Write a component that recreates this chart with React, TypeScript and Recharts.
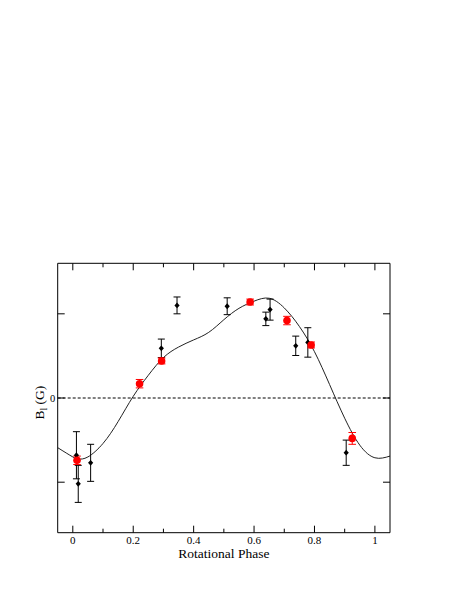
import React from 'react';
import {
  ComposedChart,
  ErrorBar,
  Line,
  ReferenceLine,
  Scatter,
  XAxis,
  YAxis,
} from 'recharts';

const FONT = "'Liberation Serif', 'Times New Roman', Times, serif";

// model curve (phase, field)
const CURVE_PHASE = [
  -0.05, 0, 0.02, 0.05, 0.1, 0.15, 0.2, 0.25, 0.3, 0.35, 0.4, 0.45, 0.5, 0.55,
  0.6, 0.65, 0.7, 0.75, 0.8, 0.85, 0.9, 0.95, 1.0, 1.05,
];
const CURVE_FIELD = [
  -59, -70, -72.5, -70, -54, -28, 2, 27, 48, 60.5, 69, 78, 93, 106.5, 115,
  118.5, 107, 85, 55, 16, -24, -56, -71, -69,
];

// black diamonds
const BLACK_PHASE = [0.012, 0.018, 0.059, 0.293, 0.345, 0.511, 0.639, 0.653, 0.738, 0.778, 0.905];
const BLACK_FIELD = [-68, -102, -77, 59, 110, 109, 94, 105, 62, 66, -65];
const BLACK_ERR = [28, 22, 22, 11, 10, 10, 8, 12.5, 11.5, 17.5, 15];

// red circles
const RED_PHASE = [0.014, 0.221, 0.294, 0.587, 0.709, 0.789, 0.925];
const RED_FIELD = [-74, 17, 44, 114, 92, 63, -48];
const RED_ERR = [5, 5, 3.5, 3.5, 5, 3.5, 7];

const X_TICKS = [0, 0.1, 0.2, 0.3, 0.4, 0.5, 0.6, 0.7, 0.8, 0.9, 1];
const X_LABELS = ['0', '', '0.2', '', '0.4', '', '0.6', '', '0.8', '', '1'];
const Y_TICKS = [-100, 0, 100];
const Y_LABELS = ['', '0', ''];

const curveData = CURVE_PHASE.map((x, i) => ({ x, y: CURVE_FIELD[i] }));
const blackData = BLACK_PHASE.map((x, i) => ({ x, y: BLACK_FIELD[i], err: BLACK_ERR[i] }));
const redData = RED_PHASE.map((x, i) => ({ x, y: RED_FIELD[i], err: RED_ERR[i] }));

const BottomTick = (props: any) => {
  const { x, y, index } = props;
  const label = X_LABELS[index] ?? '';
  const major = label !== '';
  return (
    <g>
      <line x1={x} y1={y} x2={x} y2={y - (major ? 7 : 4)} stroke="#000" />
      {major && (
        <text x={x} y={y + 11.5} textAnchor="middle" fontSize={11} fontFamily={FONT} fill="#000">
          {label}
        </text>
      )}
    </g>
  );
};

const TopTick = (props: any) => {
  const { x, y, index } = props;
  const major = (X_LABELS[index] ?? '') !== '';
  return <line x1={x} y1={y} x2={x} y2={y + (major ? 7 : 4)} stroke="#000" />;
};

const LeftTick = (props: any) => {
  const { x, y, index } = props;
  const label = Y_LABELS[index] ?? '';
  return (
    <g>
      <line x1={x} y1={y} x2={x + 7} y2={y} stroke="#000" />
      {label && (
        <text x={x - 2.5} y={y + 3.5} textAnchor="end" fontSize={10.5} fontFamily={FONT} fill="#000">
          {label}
        </text>
      )}
    </g>
  );
};

const RightTick = (props: any) => {
  const { x, y } = props;
  return <line x1={x} y1={y} x2={x - 7} y2={y} stroke="#000" />;
};

const YTitle = (props: any) => {
  const vb = props.viewBox || {};
  const cx = 36.3;
  const cy = vb.y + vb.height / 2 + 4.7;
  return (
    <text
      x={cx}
      y={cy}
      transform={`rotate(-90, ${cx}, ${cy})`}
      textAnchor="middle"
      fontSize={13.5}
      fontFamily={FONT}
      fill="#000"
    >
      B
      <tspan dy={3} fontSize={9.5}>l</tspan>
      <tspan dy={-3}> (G)</tspan>
    </text>
  );
};

const RedDot = (props: any) => {
  const { cx, cy } = props;
  if (cx == null || cy == null) return null;
  return <circle cx={cx} cy={cy} r={3.8} fill="#ff0000" />;
};

const BlackDiamond = (props: any) => {
  const { cx, cy } = props;
  if (cx == null || cy == null) return null;
  const w = 2.6;
  const h = 2.9;
  return <path d={`M${cx},${cy - h}L${cx + w},${cy}L${cx},${cy + h}L${cx - w},${cy}Z`} fill="#000" />;
};

export default function App() {
  return (
    <ComposedChart
      width={441}
      height={575}
      margin={{ top: 245.3, right: 49, bottom: 20.3, left: 9.7 }}
    >
      <XAxis
        xAxisId="bottom"
        type="number"
        dataKey="x"
        domain={[-0.05, 1.05]}
        allowDataOverflow
        ticks={X_TICKS}
        interval={0}
        height={30}
        tickSize={0}
        tickMargin={0}
        tickLine={false}
        axisLine={{ stroke: '#000' }}
        tick={<BottomTick />}
        label={{
          value: 'Rotational Phase',
          position: 'insideBottom',
          offset: 5,
          style: { fontSize: 13.5, fontFamily: FONT, fill: '#000' },
        }}
      />
      <XAxis
        xAxisId="top"
        orientation="top"
        type="number"
        dataKey="x"
        domain={[-0.05, 1.05]}
        allowDataOverflow
        ticks={X_TICKS}
        interval={0}
        height={10}
        tickSize={0}
        tickMargin={0}
        tickLine={false}
        axisLine={{ stroke: '#000' }}
        tick={<TopTick />}
      />
      <YAxis
        yAxisId="left"
        type="number"
        dataKey="y"
        domain={[-160, 160]}
        allowDataOverflow
        ticks={Y_TICKS}
        interval={0}
        width={40}
        tickSize={0}
        tickMargin={0}
        tickLine={false}
        axisLine={{ stroke: '#000' }}
        tick={<LeftTick />}
        label={(p: any) => <YTitle {...p} />}
      />
      <YAxis
        yAxisId="right"
        orientation="right"
        type="number"
        dataKey="y"
        domain={[-160, 160]}
        allowDataOverflow
        ticks={Y_TICKS}
        interval={0}
        width={10}
        tickSize={0}
        tickMargin={0}
        tickLine={false}
        axisLine={{ stroke: '#000' }}
        tick={<RightTick />}
      />
      <ReferenceLine
        xAxisId="bottom"
        yAxisId="left"
        y={0}
        stroke="#000"
        strokeDasharray="3 2"
      />
      <Line
        xAxisId="bottom"
        yAxisId="left"
        data={curveData}
        dataKey="y"
        type="natural"
        stroke="#222"
        strokeWidth={1}
        dot={false}
        activeDot={false}
        isAnimationActive={false}
      />
      <Scatter
        xAxisId="bottom"
        yAxisId="left"
        data={blackData}
        dataKey="y"
        shape={<BlackDiamond />}
        isAnimationActive={false}
      >
        <ErrorBar dataKey="err" direction="y" width={3.5} stroke="#000" strokeWidth={1} />
      </Scatter>
      <Scatter
        xAxisId="bottom"
        yAxisId="left"
        data={redData}
        dataKey="y"
        shape={<RedDot />}
        isAnimationActive={false}
      >
        <ErrorBar dataKey="err" direction="y" width={3.8} stroke="#ff0000" strokeWidth={1} />
      </Scatter>
    </ComposedChart>
  );
}
